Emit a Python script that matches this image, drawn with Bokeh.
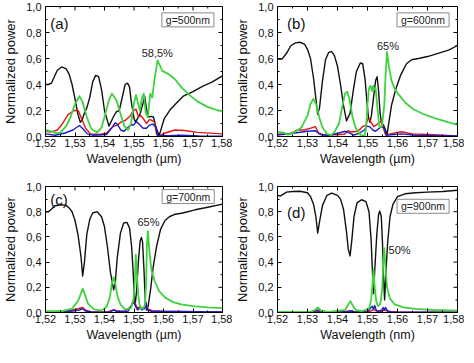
import math
from bokeh.plotting import figure
from bokeh.layouts import gridplot
from bokeh.models import FixedTicker, Label, Range1d
from bokeh.embed import file_html
from bokeh.resources import INLINE

# ---------------- data ----------------
x_ticks = [1.52, 1.53, 1.54, 1.55, 1.56, 1.57, 1.58]
x_tick_labels = ["1,52", "1,53", "1,54", "1,55", "1,56", "1,57", "1,58"]
x_minor = [1.525, 1.535, 1.545, 1.555, 1.565, 1.575]
y_ticks = [0.0, 0.2, 0.4, 0.6, 0.8, 1.0]
y_tick_labels = ["0,0", "0,2", "0,4", "0,6", "0,8", "1,0"]
y_minor = [0.1, 0.3, 0.5, 0.7, 0.9]

panel_tags = ["(a)", "(b)", "(c)", "(d)"]
gap_labels = ["g=500nm", "g=600nm", "g=700nm", "g=900nm"]
peak_labels = ["58,5%", "65%", "65%", "50%"]
x_titles = ["Wavelength (\u00b5m)", "Wavelength (\u00b5m)", "Wavelength (\u00b5m)", "Wavelength (nm)"]
y_title = "Normalized power"

# panel (a)
a_black = [(1.520,0.40),(1.521,0.40),(1.522,0.41),(1.523,0.46),(1.524,0.51),(1.5255,0.535),(1.527,0.52),
           (1.528,0.48),(1.529,0.40),(1.530,0.29),(1.531,0.17),(1.5318,0.11),(1.5325,0.13),(1.533,0.17),
           (1.534,0.22),(1.535,0.30),(1.536,0.42),(1.537,0.47),(1.538,0.46),(1.539,0.36),(1.540,0.20),
           (1.5415,0.08),(1.543,0.15),(1.544,0.19),(1.545,0.20),(1.546,0.30),(1.547,0.40),(1.5478,0.41),
           (1.5485,0.38),(1.549,0.28),(1.550,0.14),(1.5505,0.11),(1.5515,0.15),(1.552,0.17),(1.553,0.25),
           (1.5536,0.31),(1.5542,0.22),(1.5548,0.15),(1.5558,0.155),(1.5566,0.15),(1.5574,0.075),
           (1.5585,0.005),(1.5602,0.135),(1.5624,0.21),(1.5645,0.26),(1.5667,0.31),(1.570,0.345),
           (1.5732,0.386),(1.5764,0.418),(1.580,0.467)]
a_green = [(1.520,0.05),(1.522,0.04),(1.5235,0.025),(1.525,0.03),(1.527,0.08),(1.5285,0.15),(1.530,0.25),
           (1.5315,0.31),(1.5325,0.27),(1.534,0.15),(1.5355,0.06),(1.5375,0.03),(1.539,0.07),(1.540,0.15),
           (1.5415,0.28),(1.5425,0.33),(1.544,0.28),(1.5455,0.17),(1.5467,0.08),(1.548,0.05),(1.549,0.10),
           (1.550,0.26),(1.5507,0.32),(1.5515,0.24),(1.552,0.20),(1.5527,0.30),(1.5533,0.33),(1.554,0.18),
           (1.5547,0.15),(1.5555,0.33),(1.5562,0.30),(1.557,0.45),(1.558,0.585),(1.5587,0.55),(1.5596,0.505),
           (1.5617,0.48),(1.5639,0.44),(1.566,0.38),(1.5687,0.32),(1.5715,0.27),(1.5747,0.23),(1.5785,0.20),
           (1.580,0.195)]
a_red = [(1.520,0.04),(1.522,0.035),(1.524,0.05),(1.5255,0.09),(1.5277,0.17),(1.5298,0.20),(1.5311,0.20),
         (1.532,0.15),(1.5336,0.064),(1.5352,0.02),(1.5385,0.015),(1.5407,0.027),(1.5428,0.076),(1.5444,0.088),
         (1.5455,0.11),(1.5471,0.125),(1.5488,0.16),(1.5498,0.20),(1.5507,0.21),(1.5515,0.15),(1.5523,0.16),
         (1.5531,0.14),(1.5542,0.10),(1.5552,0.13),(1.556,0.125),(1.5569,0.11),(1.5577,0.015),(1.5585,0.005),
         (1.5606,0.027),(1.5639,0.05),(1.5671,0.046),(1.5715,0.032),(1.5785,0.022),(1.580,0.02)]
a_blue = [(1.520,0.02),(1.5233,0.01),(1.5266,0.027),(1.5293,0.05),(1.5315,0.085),(1.5325,0.064),(1.5342,0.02),
          (1.5363,0.01),(1.5407,0.015),(1.5428,0.076),(1.5436,0.105),(1.5444,0.093),(1.5455,0.05),(1.5466,0.04),
          (1.5477,0.064),(1.5489,0.09),(1.5498,0.088),(1.5509,0.113),(1.552,0.088),(1.5531,0.064),(1.5542,0.064),
          (1.5553,0.088),(1.5563,0.095),(1.5574,0.075),(1.558,0.007),(1.562,0.006),(1.566,0.01),(1.572,0.005),
          (1.580,0.003)]

# panel (b)
b_black = [(1.520,0.595),(1.5215,0.595),(1.523,0.64),(1.5245,0.70),(1.526,0.72),(1.5275,0.725),(1.529,0.71),
           (1.530,0.67),(1.531,0.60),(1.532,0.45),(1.533,0.25),(1.5334,0.17),(1.534,0.22),(1.535,0.43),
           (1.536,0.59),(1.537,0.645),(1.538,0.655),(1.539,0.62),(1.540,0.54),(1.541,0.40),(1.542,0.24),
           (1.543,0.12),(1.5442,0.18),(1.5453,0.36),(1.5463,0.50),(1.5476,0.565),(1.5484,0.56),(1.5492,0.44),
           (1.5498,0.27),(1.5503,0.15),(1.5508,0.11),(1.5513,0.16),(1.552,0.30),(1.5527,0.43),(1.5532,0.46),
           (1.5537,0.35),(1.5542,0.18),(1.5547,0.10),(1.5553,0.09),(1.556,0.05),(1.5565,0.01),(1.5572,0.12),
           (1.558,0.24),(1.5595,0.37),(1.561,0.47),(1.563,0.56),(1.5647,0.59),(1.567,0.60),(1.570,0.615),
           (1.5735,0.64),(1.577,0.665),(1.580,0.70)]
b_green = [(1.520,0.035),(1.522,0.03),(1.5235,0.015),(1.5255,0.03),(1.528,0.07),(1.530,0.16),(1.531,0.25),
           (1.532,0.29),(1.533,0.24),(1.534,0.14),(1.535,0.07),(1.5365,0.02),(1.5378,0.01),(1.539,0.035),
           (1.5405,0.10),(1.5415,0.22),(1.5425,0.33),(1.5432,0.345),(1.544,0.29),(1.545,0.15),(1.546,0.07),
           (1.5475,0.015),(1.549,0.005),(1.5495,0.06),(1.550,0.25),(1.5505,0.37),(1.551,0.39),(1.5515,0.35),
           (1.5519,0.39),(1.5523,0.36),(1.5527,0.37),(1.5534,0.20),(1.554,0.07),(1.5548,0.08),(1.5556,0.24),
           (1.556,0.46),(1.5565,0.65),(1.5572,0.53),(1.558,0.43),(1.559,0.37),(1.5605,0.32),(1.5626,0.26),
           (1.5653,0.21),(1.5684,0.175),(1.5726,0.14),(1.5768,0.11),(1.580,0.09)]
b_red = [(1.520,0.017),(1.524,0.017),(1.5265,0.05),(1.5289,0.05),(1.5311,0.064),(1.5326,0.076),(1.5337,0.027),
         (1.535,0.015),(1.537,0.012),(1.5423,0.017),(1.5435,0.045),(1.5445,0.035),(1.5468,0.04),(1.5484,0.076),
         (1.5495,0.088),(1.5501,0.137),(1.5507,0.13),(1.5514,0.10),(1.5521,0.076),(1.553,0.09),(1.5542,0.11),
         (1.5547,0.12),(1.5555,0.05),(1.556,0.015),(1.5575,0.02),(1.5613,0.037),(1.565,0.02),(1.570,0.015),
         (1.580,0.005)]
b_blue = [(1.520,0.012),(1.5258,0.027),(1.530,0.04),(1.5326,0.044),(1.5342,0.015),(1.537,0.008),(1.5405,0.027),
          (1.5426,0.04),(1.5437,0.03),(1.5455,0.01),(1.5474,0.027),(1.549,0.05),(1.5499,0.08),(1.5508,0.074),
          (1.5518,0.05),(1.5527,0.04),(1.5537,0.06),(1.5545,0.074),(1.5556,0.066),(1.5562,0.01),(1.5613,0.02),
          (1.566,0.01),(1.580,0.005)]

# panel (c)
c_black = [(1.520,0.80),(1.521,0.80),(1.522,0.82),(1.523,0.845),(1.525,0.855),(1.527,0.85),(1.528,0.83),
           (1.529,0.80),(1.530,0.73),(1.531,0.62),(1.532,0.45),(1.5326,0.29),(1.5332,0.40),(1.534,0.62),
           (1.535,0.74),(1.536,0.79),(1.5375,0.80),(1.539,0.76),(1.540,0.68),(1.541,0.52),(1.542,0.32),
           (1.5431,0.18),(1.5437,0.25),(1.5443,0.43),(1.5454,0.63),(1.5465,0.71),(1.5476,0.715),(1.5485,0.67),
           (1.5492,0.52),(1.5497,0.33),(1.5501,0.13),(1.5504,0.06),(1.5509,0.18),(1.5515,0.41),(1.5521,0.57),
           (1.5525,0.595),(1.5529,0.56),(1.5534,0.33),(1.5538,0.11),(1.5542,0.02),(1.5548,0.05),(1.5556,0.18),
           (1.5565,0.36),(1.5577,0.53),(1.559,0.66),(1.5605,0.73),(1.562,0.76),(1.564,0.78),(1.5665,0.79),
           (1.5707,0.815),(1.575,0.835),(1.580,0.86)]
c_green = [(1.520,0.01),(1.526,0.012),(1.529,0.03),(1.531,0.09),(1.532,0.15),(1.5326,0.19),(1.5334,0.14),
           (1.5344,0.07),(1.5365,0.025),(1.539,0.015),(1.5407,0.045),(1.5418,0.12),(1.5425,0.23),(1.5431,0.28),
           (1.5437,0.22),(1.5445,0.12),(1.5455,0.06),(1.547,0.025),(1.549,0.035),(1.5499,0.11),(1.5503,0.26),
           (1.5506,0.46),(1.551,0.30),(1.5514,0.15),(1.5518,0.07),(1.5523,0.03),(1.553,0.03),(1.5537,0.06),
           (1.5541,0.23),(1.5544,0.55),(1.5547,0.645),(1.5551,0.52),(1.5556,0.40),(1.556,0.33),(1.557,0.25),
           (1.5585,0.17),(1.5605,0.12),(1.563,0.085),(1.566,0.065),(1.570,0.05),(1.575,0.04),(1.580,0.035)]
c_red = [(1.520,0.005),(1.526,0.01),(1.529,0.02),(1.531,0.03),(1.5326,0.04),(1.5335,0.02),(1.535,0.005),
         (1.541,0.005),(1.543,0.02),(1.5445,0.01),(1.547,0.01),(1.549,0.05),(1.5498,0.10),(1.5505,0.07),
         (1.5512,0.03),(1.552,0.05),(1.5527,0.03),(1.5535,0.04),(1.554,0.08),(1.5546,0.03),(1.556,0.015),
         (1.560,0.01),(1.565,0.008),(1.580,0.005)]
c_blue = [(1.520,0.005),(1.528,0.008),(1.5315,0.02),(1.5326,0.03),(1.5335,0.012),(1.536,0.003),(1.542,0.005),
          (1.5432,0.02),(1.5445,0.008),(1.548,0.01),(1.5493,0.06),(1.5499,0.09),(1.5505,0.05),(1.5512,0.02),
          (1.552,0.04),(1.5527,0.02),(1.5535,0.03),(1.554,0.08),(1.5546,0.02),(1.556,0.01),(1.580,0.005)]

# panel (d)
d_black = [(1.520,0.93),(1.521,0.925),(1.522,0.94),(1.523,0.955),(1.525,0.96),(1.5275,0.962),(1.530,0.95),
           (1.531,0.92),(1.532,0.86),(1.5328,0.76),(1.5334,0.63),(1.534,0.72),(1.535,0.85),(1.5365,0.93),
           (1.538,0.948),(1.540,0.93),(1.541,0.90),(1.542,0.82),(1.543,0.64),(1.5436,0.50),(1.5442,0.45),
           (1.5448,0.58),(1.5455,0.76),(1.5465,0.87),(1.548,0.895),(1.5495,0.88),(1.5505,0.80),(1.5512,0.58),
           (1.5516,0.35),(1.552,0.15),(1.5524,0.33),(1.5531,0.62),(1.5537,0.78),(1.5541,0.805),(1.5546,0.76),
           (1.555,0.55),(1.5553,0.32),(1.5557,0.10),(1.5561,0.30),(1.5567,0.55),(1.5575,0.76),(1.5585,0.86),
           (1.560,0.92),(1.5625,0.942),(1.566,0.95),(1.570,0.955),(1.575,0.96),(1.580,0.97)]
d_green = [(1.520,0.005),(1.531,0.007),(1.5325,0.02),(1.5335,0.04),(1.5345,0.015),(1.537,0.005),(1.5425,0.02),
           (1.5435,0.06),(1.5443,0.09),(1.545,0.06),(1.546,0.02),(1.548,0.01),(1.5505,0.03),(1.5512,0.10),
           (1.5516,0.20),(1.552,0.34),(1.5524,0.20),(1.5529,0.09),(1.5535,0.05),(1.5543,0.07),(1.5549,0.19),
           (1.5553,0.42),(1.5556,0.51),(1.556,0.36),(1.5565,0.20),(1.5575,0.11),(1.559,0.065),(1.562,0.04),
           (1.566,0.028),(1.572,0.02),(1.580,0.015)]
d_red = [(1.520,0.002),(1.532,0.004),(1.5335,0.012),(1.535,0.003),(1.5443,0.01),(1.546,0.003),(1.551,0.01),
         (1.552,0.025),(1.553,0.01),(1.5545,0.01),(1.5556,0.02),(1.557,0.008),(1.560,0.004),(1.580,0.002)]
d_blue = [(1.520,0.003),(1.532,0.005),(1.5333,0.02),(1.5345,0.005),(1.543,0.005),(1.5443,0.015),(1.5455,0.004),
          (1.550,0.006),(1.5512,0.04),(1.5516,0.05),(1.552,0.025),(1.5524,0.055),(1.5529,0.02),(1.5536,0.008),
          (1.5548,0.02),(1.5552,0.04),(1.5556,0.02),(1.556,0.04),(1.5566,0.015),(1.558,0.005),(1.580,0.003)]

# annotation anchor positions (data units)
tag_pos = [(1.5216, 0.868), (1.5232, 0.868), (1.5216, 0.90), (1.5232, 0.79)]
gap_pos = [(1.5771, 0.897), (1.5772, 0.897), (1.5772, 0.92), (1.5772, 0.843)]
peak_pos = [(1.5579, 0.64), (1.5568, 0.696), (1.5549, 0.715), (1.5607, 0.50)]

curves = [
    (a_black, a_red, a_blue, a_green),
    (b_black, b_red, b_blue, b_green),
    (c_black, c_red, c_blue, c_green),
    (d_black, d_red, d_blue, d_green),
]

# ---------------- styling ----------------
FONT = "Liberation Sans"
COLORS = ["#111111", "#e01515", "#1c1cc4", "#3fd23f"]
WIDTHS = [1.4, 1.4, 1.4, 1.8]

# (width, height, left, right, top, bottom)
geom = [
    (232, 174, 42, 10, 6, 38),
    (232, 174, 42, 7, 6, 38),
    (232, 173, 42, 7, 12, 33),
    (232, 173, 42, 7, 10, 35),
]


def style_axis(ax, ticks, minor, labels):
    ax.ticker = FixedTicker(ticks=ticks, minor_ticks=minor)
    ax.major_tick_in = 4
    ax.major_tick_out = 0
    ax.minor_tick_in = 2
    ax.minor_tick_out = 0
    ax.axis_line_color = "black"
    ax.axis_line_width = 1
    ax.major_tick_line_color = "black"
    ax.minor_tick_line_color = "black"
    ax.major_label_overrides = {t: l for t, l in zip(ticks, labels)}
    ax.major_label_text_font = FONT
    ax.major_label_text_font_size = "11px"
    ax.major_label_text_color = "#111111"


def make_panel(i):
    w, h, bl, br, bt, bb = geom[i]
    p = figure(width=w, height=h, output_backend="svg", toolbar_location=None,
               x_range=Range1d(1.52, 1.58), y_range=Range1d(0.0, 1.0),
               min_border=0, min_border_left=bl, min_border_right=br,
               min_border_top=bt, min_border_bottom=bb)
    p.outline_line_color = "black"
    p.xgrid.visible = False
    p.ygrid.visible = False
    p.background_fill_color = "white"
    p.border_fill_color = "white"

    style_axis(p.xaxis[0], x_ticks, x_minor, x_tick_labels)
    style_axis(p.yaxis[0], y_ticks, y_minor, y_tick_labels)
    p.xaxis[0].major_label_standoff = 2
    p.yaxis[0].major_label_standoff = 4
    p.xaxis.axis_label = x_titles[i]
    p.yaxis.axis_label = y_title
    for ax in (p.xaxis[0], p.yaxis[0]):
        ax.axis_label_text_font = FONT
        ax.axis_label_text_font_style = "normal"
        ax.axis_label_text_color = "#111111"
    p.xaxis[0].axis_label_text_font_size = "12.5px"
    p.yaxis[0].axis_label_text_font_size = "13px"
    p.xaxis[0].axis_label_standoff = 2
    p.yaxis[0].axis_label_standoff = 5

    # mirrored inward ticks on the top and right edges of the frame
    x_top, y_right = p.y_range.end, p.x_range.end
    p.ray(x=x_ticks, y=[x_top] * len(x_ticks), length=4, length_units="screen",
          angle=-math.pi / 2, line_color="black", line_width=1)
    p.ray(x=x_minor, y=[x_top] * len(x_minor), length=2, length_units="screen",
          angle=-math.pi / 2, line_color="black", line_width=1)
    p.ray(x=[y_right] * len(y_ticks), y=y_ticks, length=4, length_units="screen",
          angle=math.pi, line_color="black", line_width=1)
    p.ray(x=[y_right] * len(y_minor), y=y_minor, length=2, length_units="screen",
          angle=math.pi, line_color="black", line_width=1)

    for series, col, lw in zip(curves[i], COLORS, WIDTHS):
        xs = [q[0] for q in series]
        ys = [q[1] for q in series]
        p.line(xs, ys, line_color=col, line_width=lw, line_join="round")

    tx, ty = tag_pos[i]
    p.add_layout(Label(x=tx, y=ty, text=panel_tags[i], text_font=FONT, text_font_size="15px",
                       text_align="left", text_baseline="middle", text_color="#111111"))
    gx, gy = gap_pos[i]
    p.add_layout(Label(x=gx, y=gy, text=gap_labels[i], text_font=FONT, text_font_size="10.5px",
                       text_align="right", text_baseline="middle", text_color="#222222",
                       border_line_color="#8a8a8a", border_line_width=1,
                       background_fill_color="white", padding=(4, 1)))
    px, py = peak_pos[i]
    p.add_layout(Label(x=px, y=py, text=peak_labels[i], text_font=FONT, text_font_size="11px",
                       text_align="center", text_baseline="middle", text_color="#222222"))
    return p


panels = [make_panel(i) for i in range(4)]
layout = gridplot([[panels[0], panels[1]], [panels[2], panels[3]]], toolbar_location=None)

open("out.html", "w").write(file_html(layout, INLINE))
